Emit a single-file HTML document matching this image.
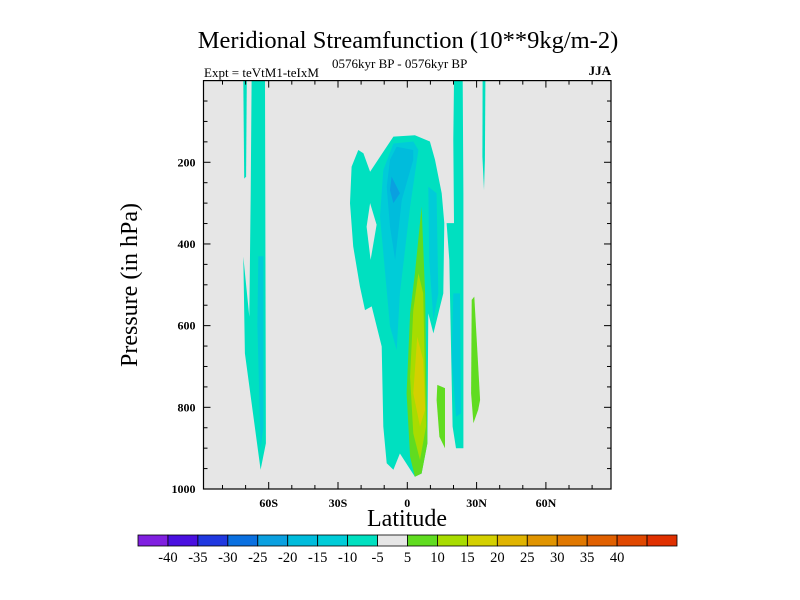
<!DOCTYPE html>
<html><head><meta charset="utf-8">
<style>
html,body{margin:0;padding:0;background:#fff;}
svg{display:block;font-family:"Liberation Serif",serif;}
</style></head>
<body>
<svg id="chart" width="800" height="600" viewBox="0 0 800 600" xmlns="http://www.w3.org/2000/svg">
<text x="408" y="48" font-size="24.5" text-anchor="middle">Meridional Streamfunction (10**9kg/m-2)</text>
<text x="204" y="77" font-size="13">Expt = teVtM1-teIxM</text>
<text x="332" y="68" font-size="13">0576kyr BP - 0576kyr BP</text>
<text x="611" y="75" font-size="13" font-weight="bold" text-anchor="end">JJA</text>
<text transform="translate(137,285) rotate(-90)" font-size="24" text-anchor="middle">Pressure (in hPa)</text>
<text x="407" y="526" font-size="24" text-anchor="middle">Latitude</text>
<g id="plot"></g>
<g id="colorbar"></g>
</svg>
<script>
const levelColors = ['#8020e0','#4a10e0','#2038e0','#0a70e0','#0aa0e0','#00bcdc','#00ccd8','#00e0c0','#e6e6e6','#60dc20','#a8dc00','#d4d000','#e0b400','#e09400','#e07800','#e06000','#e04800','#e03000'];
const colorbarLabels = ['-40','-35','-30','-25','-20','-15','-10','-5','5','10','15','20','25','30','35','40'];
const latTicks = [-60,-30,0,30,60];
const latTickLabels = ['60S','30S','0','30N','60N'];
const presTicks = [200,400,600,800,1000];
// contour regions: level index into levelColors, and [lat, pressure] vertices
const shapeLevels = [7,7,6, 7,8,6,6,5,4, 7,6, 7, 9,9, 9,10,11];
const shapePoints = [
 [[-71,0],[-69.5,0],[-69.8,235],[-70.6,240]],
 [[-67.4,0],[-61.6,0],[-61.2,888],[-63.5,953],[-70.3,668],[-71,431],[-68.4,578],[-67.8,276]],
 [[-64.5,430],[-62.3,430],[-62.3,850],[-63.5,900],[-64.9,600]],
 [[-24.1,211],[-21.2,170],[-19.0,178],[-16.1,223],[-6.0,137],[3.3,134],[9.8,149],[12.0,194],[14.9,276],[16.0,349],[15.6,521],[11.3,619],[9.1,570],[8.7,888],[6.2,962],[3.3,970],[-3.2,913],[-6.0,953],[-8.9,937],[-10.4,847],[-11.1,651],[-15.4,553],[-18.3,562],[-20.5,504],[-23.4,406],[-24.8,300]],
 [[-16.1,300],[-13.3,353],[-15.9,439],[-17.6,358]],
 [[-10.4,219],[-6.0,154],[2.6,149],[4.8,170],[1.2,309],[-3.2,521],[-4.6,660],[-7.5,602],[-11.8,333]],
 [[9.1,260],[12.7,276],[13.4,521],[11.3,586],[9.5,439]],
 [[-7.5,194],[-4.6,162],[2.6,170],[2.6,194],[-2.4,292],[-5.3,439],[-7.5,358],[-8.9,260]],
 [[-6.8,235],[-3.2,276],[-6.0,300],[-7.5,268]],
 [[20.2,0],[24.0,0],[24.3,276],[24.3,900],[21.1,900],[19.6,847],[18.2,439],[17.0,349],[20.2,349],[19.9,145]],
 [[19.9,521],[22.8,521],[23.2,815],[21.1,823],[19.2,684]],
 [[32.6,0],[33.8,0],[33.6,194],[33.2,268],[32.5,186]],
 [[13.0,745],[16.3,753],[16.3,900],[13.9,872],[12.7,782]],
 [[27.9,537],[29.0,529],[31.5,782],[30.7,806],[28.6,839],[27.6,766]],
 [[6.2,309],[7.7,521],[8.7,888],[6.2,962],[3.3,970],[1.2,921],[-0.3,766],[1.2,570],[3.3,472]],
 [[4.8,472],[6.9,521],[8.1,847],[5.5,929],[2.6,864],[1.2,725],[2.6,562]],
 [[4.3,627],[6.9,684],[7.7,806],[5.5,847],[2.6,766]]
];
const NS='http://www.w3.org/2000/svg';
const X0=203.5,X1=611,Y0=80.6,Y1=489;
const latMin=-88.3,latMax=88.1,pMin=0,pMax=1000;
function xs(lat){return 407.3+lat*2.31;}
function ys(p){return Y0+(p-pMin)/(pMax-pMin)*(Y1-Y0);}
function mk(tag,attrs,parent){const e=document.createElementNS(NS,tag);for(const k in attrs)e.setAttribute(k,attrs[k]);parent.appendChild(e);return e;}
const plot=document.getElementById('plot');
const bg=mk('rect',{x:X0,y:Y0,width:X1-X0,height:Y1-Y0,fill:'#e6e6e6'},plot);


const cp=mk('clipPath',{id:'clip'},plot);mk('rect',{x:X0,y:Y0,width:X1-X0,height:Y1-Y0},cp);
const cg=mk('g',{'clip-path':'url(#clip)'},plot);
shapePoints.forEach((pts,i)=>{
 const d=pts.map(q=>xs(q[0]).toFixed(1)+','+ys(q[1]).toFixed(1)).join(' ');
 const pg=mk('polygon',{points:d,fill:levelColors[shapeLevels[i]]},cg);
 
 
});
// ticks
const tg=mk('g',{stroke:'#000','stroke-width':1},plot);
for(let lat=-80;lat<=80;lat+=10){
 const maj=latTicks.includes(lat);const L=maj?7:4;const x=xs(lat);
 mk('line',{x1:x,x2:x,y1:Y1,y2:Y1-L},tg);mk('line',{x1:x,x2:x,y1:Y0,y2:Y0+L},tg);
}
for(let p=50;p<1000;p+=50){
 const maj=presTicks.includes(p);const L=maj?7:4;const y=ys(p);
 mk('line',{x1:X0,x2:X0+L,y1:y,y2:y},tg);mk('line',{x1:X1,x2:X1-L,y1:y,y2:y},tg);
}
const fr=mk('rect',{x:X0,y:Y0,width:X1-X0,height:Y1-Y0,fill:'none',stroke:'#000','stroke-width':1.2},plot);


latTicks.forEach((lat,i)=>{
 const t=mk('text',{x:xs(lat),y:Y1+18,'font-size':12,'text-anchor':'middle','font-weight':'bold'},plot);
 t.textContent=latTickLabels[i];
 
 
});
presTicks.forEach(p=>{
 const t=mk('text',{x:X0-8,y:ys(p)+4,'font-size':12,'text-anchor':'end','font-weight':'bold'},plot);
 t.textContent=String(p);
 
 
});
// colorbar
const cb=document.getElementById('colorbar');
const CBX=138,CBW=539,CBY=535,CBH=11,bw=CBW/levelColors.length;
levelColors.forEach((c,i)=>{
 const r=mk('rect',{x:CBX+i*bw,y:CBY,width:bw,height:CBH,fill:c,stroke:'#000','stroke-width':0.8},cb);
 
 
});
colorbarLabels.forEach((l,i)=>{
 const t=mk('text',{x:CBX+(i+1)*bw,y:CBY+CBH+16,'font-size':14.5,'text-anchor':'middle'},cb);
 t.textContent=l;
 
 
});
</script>
</body></html>
